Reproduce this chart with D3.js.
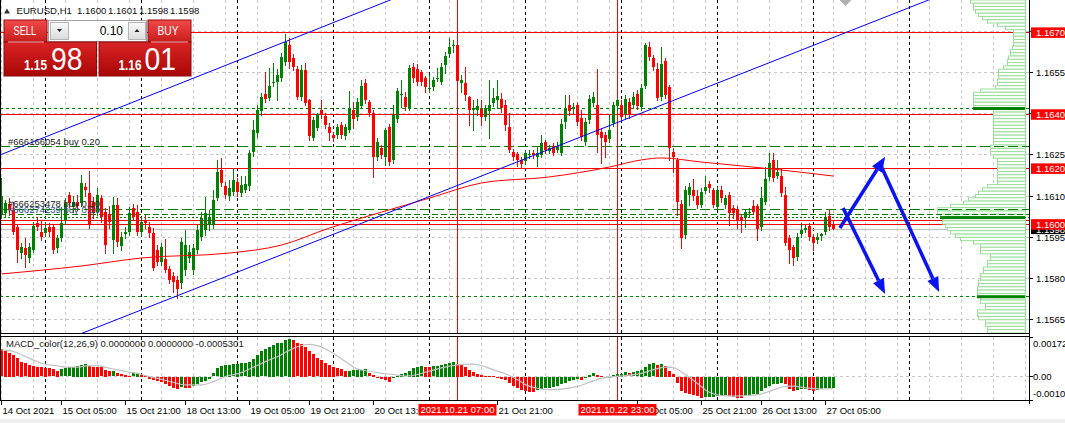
<!DOCTYPE html>
<html><head><meta charset="utf-8">
<script src="https://cdn.jsdelivr.net/npm/d3@7"></script>
<style>
html,body{margin:0;padding:0;background:#fff;overflow:hidden}
svg{display:block}
text{font-family:"Liberation Sans",Arial,sans-serif}
</style></head><body>
<svg id="c" width="1065" height="423"></svg>
<script>
// ---------------- DATA ----------------
const opens=[1.16035,1.16039,1.16071,1.16050,1.15988,1.15893,1.15911,1.15875,1.15904,1.16002,1.15970,1.15966,1.15988,1.15988,1.15911,1.15948,1.16013,1.16104,1.16061,1.16079,1.16075,1.16133,1.16112,1.16079,1.16042,1.16093,1.16042,1.16035,1.15940,1.16068,1.15919,1.15962,1.15970,1.16057,1.16042,1.15970,1.16013,1.15988,1.15966,1.15904,1.15861,1.15871,1.15835,1.15810,1.15795,1.15784,1.15831,1.15875,1.15831,1.15904,1.15951,1.15977,1.15995,1.15995,1.16093,1.16195,1.16137,1.16101,1.16115,1.16152,1.16112,1.16122,1.16137,1.16261,1.16330,1.16410,1.16472,1.16457,1.16512,1.16516,1.16530,1.16588,1.16650,1.16603,1.16563,1.16461,1.16559,1.16450,1.16312,1.16348,1.16414,1.16392,1.16352,1.16323,1.16323,1.16359,1.16319,1.16341,1.16414,1.16388,1.16428,1.16512,1.16443,1.16403,1.16243,1.16275,1.16243,1.16352,1.16232,1.16381,1.16468,1.16461,1.16421,1.16570,1.16563,1.16552,1.16530,1.16490,1.16497,1.16526,1.16516,1.16577,1.16617,1.16647,1.16650,1.16512,1.16512,1.16461,1.16414,1.16414,1.16417,1.16388,1.16410,1.16439,1.16450,1.16454,1.16432,1.16352,1.16261,1.16253,1.16232,1.16228,1.16250,1.16257,1.16243,1.16250,1.16297,1.16264,1.16283,1.16268,1.16257,1.16370,1.16432,1.16417,1.16432,1.16384,1.16297,1.16377,1.16439,1.16432,1.16334,1.16323,1.16308,1.16366,1.16428,1.16432,1.16399,1.16443,1.16432,1.16472,1.16425,1.16501,1.16643,1.16603,1.16563,1.16461,1.16592,1.16497,1.16261,1.16232,1.16071,1.15959,1.16104,1.16122,1.16101,1.16068,1.16119,1.16144,1.16122,1.16061,1.16122,1.16068,1.16104,1.16057,1.16053,1.16024,1.16020,1.16039,1.16064,1.16064,1.15988,1.16079,1.16170,1.16232,1.16173,1.16173,1.16104,1.15948,1.15915,1.15879,1.15962,1.15977,1.15991,1.15951,1.15940,1.15955,1.15970,1.16028,1.16000];
const highs=[1.16166,1.16086,1.16093,1.16079,1.15995,1.15929,1.15948,1.15929,1.16006,1.16024,1.16013,1.16006,1.16002,1.15999,1.15959,1.16061,1.16093,1.16115,1.16101,1.16104,1.16177,1.16148,1.16192,1.16097,1.16130,1.16104,1.16057,1.16064,1.16097,1.16093,1.15970,1.15988,1.16061,1.16071,1.16068,1.16020,1.16031,1.16006,1.15984,1.15922,1.15929,1.15944,1.15846,1.15824,1.15810,1.15948,1.15977,1.15922,1.15926,1.15995,1.16042,1.16097,1.16050,1.16122,1.16232,1.16239,1.16152,1.16159,1.16202,1.16166,1.16173,1.16173,1.16268,1.16377,1.16432,1.16476,1.16552,1.16566,1.16585,1.16563,1.16621,1.16690,1.16676,1.16617,1.16574,1.16577,1.16585,1.16454,1.16388,1.16403,1.16450,1.16403,1.16366,1.16334,1.16363,1.16370,1.16363,1.16483,1.16443,1.16457,1.16523,1.16526,1.16450,1.16414,1.16312,1.16286,1.16348,1.16363,1.16432,1.16494,1.16523,1.16479,1.16577,1.16585,1.16581,1.16559,1.16537,1.16541,1.16534,1.16566,1.16585,1.16625,1.16676,1.16668,1.16661,1.16541,1.16570,1.16465,1.16450,1.16454,1.16450,1.16432,1.16523,1.16494,1.16523,1.16476,1.16450,1.16403,1.16272,1.16261,1.16243,1.16268,1.16268,1.16268,1.16279,1.16323,1.16304,1.16286,1.16293,1.16297,1.16381,1.16468,1.16468,1.16439,1.16443,1.16414,1.16384,1.16468,1.16479,1.16563,1.16348,1.16334,1.16395,1.16443,1.16457,1.16450,1.16468,1.16457,1.16479,1.16486,1.16508,1.16658,1.16661,1.16614,1.16585,1.16643,1.16603,1.16505,1.16275,1.16239,1.16086,1.16137,1.16148,1.16162,1.16122,1.16130,1.16173,1.16155,1.16130,1.16133,1.16137,1.16104,1.16115,1.16068,1.16064,1.16035,1.16050,1.16057,1.16086,1.16071,1.16133,1.16206,1.16257,1.16257,1.16232,1.16202,1.16133,1.15959,1.15922,1.15966,1.16002,1.15995,1.16002,1.15962,1.15966,1.15966,1.16042,1.16053,1.16010];
const lows=[1.16020,1.16028,1.16031,1.15962,1.15861,1.15875,1.15843,1.15861,1.15897,1.15977,1.15940,1.15955,1.15955,1.15893,1.15897,1.15937,1.15999,1.16061,1.16042,1.16050,1.16064,1.16101,1.15984,1.16020,1.16031,1.16006,1.15893,1.15984,1.15893,1.15919,1.15904,1.15948,1.15959,1.16013,1.15959,1.15955,1.15984,1.15951,1.15831,1.15850,1.15850,1.15824,1.15784,1.15751,1.15729,1.15766,1.15813,1.15861,1.15817,1.15893,1.15940,1.15959,1.15977,1.15984,1.16086,1.16137,1.16093,1.16086,1.16104,1.16101,1.16101,1.16115,1.16122,1.16246,1.16315,1.16395,1.16443,1.16450,1.16501,1.16450,1.16519,1.16577,1.16566,1.16559,1.16454,1.16450,1.16432,1.16304,1.16304,1.16341,1.16384,1.16348,1.16304,1.16301,1.16312,1.16312,1.16308,1.16334,1.16348,1.16377,1.16421,1.16439,1.16392,1.16170,1.16232,1.16239,1.16213,1.16213,1.16221,1.16370,1.16425,1.16414,1.16414,1.16516,1.16505,1.16505,1.16479,1.16479,1.16486,1.16519,1.16508,1.16548,1.16607,1.16625,1.16508,1.16479,1.16450,1.16359,1.16341,1.16395,1.16359,1.16377,1.16312,1.16428,1.16421,1.16406,1.16341,1.16261,1.16232,1.16210,1.16202,1.16217,1.16239,1.16239,1.16210,1.16243,1.16257,1.16257,1.16250,1.16261,1.16250,1.16348,1.16395,1.16403,1.16359,1.16304,1.16286,1.16366,1.16428,1.16261,1.16221,1.16243,1.16297,1.16355,1.16414,1.16377,1.16384,1.16384,1.16421,1.16417,1.16414,1.16494,1.16596,1.16559,1.16450,1.16450,1.16457,1.16232,1.16188,1.16031,1.15911,1.15948,1.16068,1.16086,1.16057,1.16061,1.16112,1.16115,1.16061,1.16053,1.16079,1.16057,1.15995,1.16020,1.15984,1.15970,1.15988,1.16028,1.16035,1.15940,1.15977,1.16071,1.16159,1.16155,1.16166,1.16101,1.15922,1.15857,1.15850,1.15868,1.15951,1.15970,1.15940,1.15904,1.15929,1.15940,1.15962,1.15977,1.15980];
const closes=[1.16101,1.16075,1.16050,1.15970,1.15904,1.15915,1.15886,1.15915,1.15991,1.15988,1.15951,1.15984,1.15970,1.15904,1.15948,1.16002,1.16075,1.16075,1.16079,1.16064,1.16148,1.16122,1.15995,1.16039,1.16104,1.16024,1.15922,1.16006,1.16068,1.15933,1.15951,1.15970,1.16039,1.16024,1.15970,1.16006,1.16002,1.15966,1.15839,1.15861,1.15915,1.15831,1.15795,1.15788,1.15762,1.15933,1.15922,1.15897,1.15911,1.15977,1.16020,1.16039,1.16024,1.16086,1.16188,1.16148,1.16104,1.16130,1.16159,1.16115,1.16141,1.16144,1.16257,1.16341,1.16414,1.16461,1.16454,1.16501,1.16516,1.16541,1.16607,1.16661,1.16588,1.16570,1.16461,1.16559,1.16439,1.16319,1.16377,1.16399,1.16395,1.16359,1.16330,1.16312,1.16352,1.16323,1.16352,1.16421,1.16381,1.16443,1.16501,1.16450,1.16403,1.16243,1.16297,1.16250,1.16341,1.16224,1.16395,1.16483,1.16472,1.16425,1.16566,1.16530,1.16516,1.16516,1.16497,1.16494,1.16523,1.16530,1.16570,1.16610,1.16643,1.16650,1.16519,1.16523,1.16468,1.16414,1.16421,1.16428,1.16388,1.16421,1.16432,1.16457,1.16465,1.16421,1.16359,1.16268,1.16243,1.16232,1.16217,1.16257,1.16253,1.16250,1.16257,1.16293,1.16268,1.16275,1.16257,1.16283,1.16363,1.16421,1.16410,1.16425,1.16370,1.16315,1.16370,1.16454,1.16461,1.16323,1.16312,1.16297,1.16341,1.16432,1.16450,1.16388,1.16454,1.16395,1.16461,1.16428,1.16494,1.16650,1.16607,1.16570,1.16457,1.16581,1.16468,1.16275,1.16243,1.16079,1.15948,1.16122,1.16133,1.16101,1.16068,1.16115,1.16133,1.16130,1.16068,1.16122,1.16093,1.16093,1.16039,1.16039,1.16013,1.16010,1.16042,1.16042,1.16042,1.15980,1.16093,1.16162,1.16221,1.16166,1.16188,1.16112,1.15929,1.15904,1.15875,1.15951,1.15977,1.15984,1.15951,1.15929,1.15951,1.15962,1.16024,1.15988,1.15980];

// MACD histogram (main line) per bar, and its signal line read at sample bars
const macdHist=[0.00119,0.00113,0.00104,0.00094,0.00080,0.00065,0.00058,0.00051,0.00046,0.00043,0.00041,0.00039,0.00036,0.00032,0.00026,0.00032,0.00036,0.00041,0.00043,0.00046,0.00051,0.00055,0.00046,0.00043,0.00042,0.00041,0.00029,0.00022,0.00023,0.00014,0.00010,0.00007,0.00003,0.00014,0.00017,0.00007,0.00003,-0.00007,-0.00014,-0.00017,-0.00022,-0.00029,-0.00041,-0.00046,-0.00051,-0.00045,-0.00048,-0.00049,-0.00038,-0.00029,-0.00022,-0.00017,-0.00007,0.00014,0.00036,0.00046,0.00051,0.00052,0.00054,0.00055,0.00057,0.00058,0.00065,0.00075,0.00094,0.00109,0.00119,0.00130,0.00138,0.00145,0.00148,0.00157,0.00164,0.00159,0.00145,0.00142,0.00130,0.00109,0.00099,0.00080,0.00072,0.00061,0.00051,0.00043,0.00036,0.00032,0.00025,0.00026,0.00028,0.00029,0.00030,0.00031,0.00014,0.00007,-0.00004,-0.00010,-0.00012,-0.00020,-0.00006,0.00004,0.00012,0.00014,0.00026,0.00038,0.00043,0.00045,0.00043,0.00042,0.00045,0.00048,0.00052,0.00055,0.00059,0.00065,0.00055,0.00051,0.00041,0.00029,0.00019,0.00012,0.00007,0.00004,0.00003,0.00001,-0.00001,-0.00007,-0.00014,-0.00025,-0.00039,-0.00049,-0.00058,-0.00061,-0.00064,-0.00065,-0.00058,-0.00054,-0.00049,-0.00048,-0.00043,-0.00039,-0.00032,-0.00025,-0.00017,-0.00014,-0.00010,-0.00012,-0.00006,0.00007,0.00014,0.00007,0.00004,-0.00006,-0.00003,0.00007,0.00010,0.00012,0.00019,0.00014,0.00019,0.00022,0.00029,0.00041,0.00055,0.00057,0.00051,0.00055,0.00048,0.00026,0.00012,-0.00025,-0.00061,-0.00068,-0.00072,-0.00078,-0.00083,-0.00091,-0.00088,-0.00087,-0.00086,-0.00083,-0.00081,-0.00080,-0.00083,-0.00087,-0.00090,-0.00093,-0.00084,-0.00078,-0.00075,-0.00072,-0.00061,-0.00049,-0.00039,-0.00032,-0.00029,-0.00025,-0.00032,-0.00054,-0.00061,-0.00055,-0.00054,-0.00052,-0.00058,-0.00061,-0.00055,-0.00051,-0.00049,-0.00048,-0.00046];
const signalBars=[0,3,6,10,14,16,19,21,24,27,31,35,36,40,43,46,50,53,56,60,63,66,70,72,75,77,80,83,86,89,92,95,98,101,104,106,110,114,117,120,123,126,129,131,134,137,140,144,147,150,153,156,160,163,166,168,170,172,174,176,177,180,183,186,190,193,196,198,201,205,208];
const signalVals=[0.00116,0.00109,0.00087,0.00058,0.00046,0.00041,0.00041,0.00046,0.00046,0.00036,0.00022,0.00010,0.00004,-0.00012,-0.00026,-0.00036,-0.00036,-0.00022,0.00000,0.00017,0.00041,0.00065,0.00095,0.00115,0.00135,0.00140,0.00128,0.00100,0.00065,0.00032,0.00023,0.00014,0.00009,0.00002,0.00009,0.00019,0.00038,0.00051,0.00054,0.00048,0.00029,0.00012,-0.00014,-0.00035,-0.00051,-0.00058,-0.00055,-0.00043,-0.00025,-0.00007,0.00000,0.00004,0.00014,0.00030,0.00041,0.00039,0.00020,-0.00004,-0.00030,-0.00058,-0.00068,-0.00083,-0.00085,-0.00083,-0.00075,-0.00058,-0.00043,-0.00042,-0.00049,-0.00054,-0.00053];

// Moving average (red) read at sample bars
const maBars=[0,20,35,57,70,82,95,107,120,137,152,160,165,175,185,195,208];
const maVals=[1.15817,1.15846,1.15875,1.15893,1.15922,1.15984,1.16042,1.16093,1.16148,1.16170,1.16206,1.16232,1.16239,1.16224,1.16210,1.16195,1.16173];

// Time axis
const timeLabels=["14 Oct 2021","15 Oct 05:00","15 Oct 21:00","18 Oct 13:00","19 Oct 05:00","19 Oct 21:00","20 Oct 13:00","21 Oct 21:00","25 Oct 05:00","25 Oct 21:00","26 Oct 13:00","27 Oct 05:00"];
const timeLabelBars=[0,15,31,46,62,77,93,124,159,175,190,206];
const separatorBars=[11,35,59,83,107,131,155,179,203,227];
const vlineBars=[114,154];
const vlineLabels=["2021.10.21 07:00","2021.10.22 23:00"];

// Price axis
const priceTicks=[1.1565,1.1580,1.1595,1.1610,1.1625,1.1640,1.1655,1.1670];
const redLevels=[1.16696,1.16398,1.16201,1.16013,1.15998];
const redLabelLevels=[1.16696,1.16398,1.16201,1.15998];
const bidPrice=1.15980;
const orderPrices=[1.16280,1.16053,1.16032];
const orderLabels=["#666166054 buy 0.20","#666253478 buy 0.20","#666274239 buy 0.20"];
const profileLevels=[1.16419,1.16022,1.15734];
const macdTicks=[0.00172,0,-0.00102];

// Trend lines (bar, price)
const upperChannelBars=[0,96], upperChannelPrices=[1.16252,1.16807];
const lowerChannelBars=[21,229], lowerChannelPrices=[1.15606,1.16798];
const arrowBars=[[209.6,220.9],[219.9,234.4],[210.4,220.9]];
const arrowPrices=[[1.15984,1.16243],[1.16210,1.15751],[1.16057,1.15744]];

// Volume profile (top price, bucket size, volumes from top)
const profileTop=1.16814, profileStep=0.00012;
const profileVols=[55,52,52,50,47,43,38,28,20,12,12,12,12,12,13,15,15,17,18,18,22,27,27,27,28,28,30,45,52,52,52,52,52,32,32,32,32,32,32,32,32,32,32,32,35,35,35,32,28,28,28,28,28,28,28,28,38,43,47,50,57,62,75,88,88,85,83,83,80,78,75,70,65,52,45,45,45,35,35,38,38,42,42,45,45,47,47,48,48,48,45,45,40,40,48,48,47,40,40,38,38];

// Trade panel
const sellPrice="1.1598", buyPrice="1.1601", lotSize="0.10";
const symbolName="EURUSD,H1";
const macdTitle="MACD_color(12,26,9) 0.0000000 0.0000000 -0.0005301";

// ---------------- DRAW ----------------
const W=1065,H=423, AX=1029, MAIN_B=333, MACD_T=337, MACD_B=400;
const GREEN="#008000", RED="#ff0000", GRID="#c8c8c8", BLUE="#0000ff";
const svg=d3.select("#c");
const defs=svg.append("defs");
defs.append("clipPath").attr("id","cpMain").append("rect").attr("x",0).attr("y",0).attr("width",AX).attr("height",MAIN_B);
defs.append("clipPath").attr("id","cpMacd").append("rect").attr("x",0).attr("y",MACD_T).attr("width",AX).attr("height",MACD_B-MACD_T);

const x=d3.scaleLinear().domain([0,256.625]).range([1.5,1028]);
const y=d3.scaleLinear().domain([1.1565,1.1655]).range([319.8,72.5]);
const ym=d3.scaleLinear().domain([-0.00102,0.00172]).range([MACD_B,MACD_T]);
const cy=v=>Math.floor(y(v))+0.5;

svg.append("rect").attr("width",W).attr("height",H).attr("fill","#fff");
svg.append("rect").attr("x",0).attr("y",419).attr("width",W).attr("height",4).attr("fill","#f0f0f0");

const gM=svg.append("g").attr("clip-path","url(#cpMain)");
const gD=svg.append("g").attr("clip-path","url(#cpMacd)");
const gridBars=d3.range(0,257,8);

// grids
const gMg=gM.append("g").attr("shape-rendering","crispEdges");
gMg.selectAll(null).data(priceTicks).join("line").attr("x1",0).attr("x2",AX).attr("y1",d=>cy(d)).attr("y2",d=>cy(d)).attr("stroke",GRID).attr("stroke-dasharray","3,3");
gMg.selectAll(null).data(gridBars).join("line").attr("x1",d=>x(d)).attr("x2",d=>x(d)).attr("y1",0).attr("y2",MAIN_B).attr("stroke",GRID).attr("stroke-dasharray","3,3");
const gDg=gD.append("g").attr("shape-rendering","crispEdges");
gDg.append("line").attr("x1",0).attr("x2",AX).attr("y1",Math.floor(ym(0))+0.5).attr("y2",Math.floor(ym(0))+0.5).attr("stroke",GRID).attr("stroke-dasharray","3,3");
gDg.selectAll(null).data(gridBars).join("line").attr("x1",d=>x(d)).attr("x2",d=>x(d)).attr("y1",MACD_T).attr("y2",MACD_B).attr("stroke",GRID).attr("stroke-dasharray","3,3");

// period separators
[gMg,gDg].forEach((g,k)=>{
  g.selectAll(null).data(separatorBars).join("line").attr("x1",d=>x(d)).attr("x2",d=>x(d))
   .attr("y1",k?MACD_T:0).attr("y2",k?MACD_B:MAIN_B).attr("stroke","#000").attr("stroke-dasharray","3,3");
});

// red horizontal levels
gMg.selectAll(null).data(redLevels).join("line").attr("x1",0).attr("x2",AX).attr("y1",d=>cy(d)).attr("y2",d=>cy(d)).attr("stroke",RED);
// bid line
gMg.append("line").attr("x1",0).attr("x2",AX).attr("y1",cy(bidPrice)).attr("y2",cy(bidPrice)).attr("stroke","#c0c0c0");

// volume profile
const xv=d3.scaleLinear().domain([0,100]).range([1025,925]);
const rowTop=k=>y(profileTop-k*profileStep);
gM.append("g").selectAll(null).data(profileVols).join("rect")
  .attr("x",d=>Math.round(xv(d))+0.5).attr("width",d=>1025-Math.round(xv(d)))
  .attr("y",(d,k)=>rowTop(k)).attr("height",(d,k)=>rowTop(k+1)-rowTop(k))
  .attr("fill","#fff").attr("stroke","#9ade9a").attr("stroke-width",1);
profileLevels.forEach(p=>{
  const k=Math.floor((profileTop-p)/profileStep);
  gM.append("rect").attr("x",xv(profileVols[k])).attr("width",1025-xv(profileVols[k])).attr("y",y(p)-1.5).attr("height",3).attr("fill",GREEN);
});

// green dashed lines
const gGl=gM.append("g").attr("shape-rendering","crispEdges");
gGl.selectAll(null).data(profileLevels).join("line").attr("x1",0).attr("x2",AX).attr("y1",d=>cy(d)).attr("y2",d=>cy(d))
  .attr("stroke",GREEN).attr("stroke-dasharray",(d,k)=>k===1?"2,2":"3,3");
gGl.selectAll(null).data(orderPrices).join("line").attr("x1",0).attr("x2",AX).attr("y1",d=>cy(d)).attr("y2",d=>cy(d))
  .attr("stroke",GREEN).attr("stroke-dasharray",(d,k)=>k===2?"6,3":"10,4");

// vertical red lines
[0,1].forEach(k=>{
  const g=k?gD:gM;
  g.selectAll(null).data(vlineBars).join("line").attr("x1",d=>x(d)).attr("x2",d=>x(d))
   .attr("y1",k?MACD_T:0).attr("y2",k?MACD_B:MAIN_B).attr("stroke",RED).attr("shape-rendering","crispEdges");
});

// candles
const bars=d3.range(opens.length);
const gC=gM.append("g").attr("shape-rendering","crispEdges");
gC.selectAll(null).data(bars).join("rect")
  .attr("x",i=>x(i)-0.5).attr("width",1)
  .attr("y",i=>Math.round(y(highs[i]))).attr("height",i=>Math.max(1,Math.round(y(lows[i]))-Math.round(y(highs[i]))+1))
  .attr("fill",i=>closes[i]>=opens[i]?GREEN:RED);
gC.selectAll(null).data(bars).join("rect")
  .attr("x",i=>x(i)-1.5).attr("width",3)
  .attr("y",i=>Math.round(Math.min(y(opens[i]),y(closes[i]))))
  .attr("height",i=>Math.max(1,Math.round(Math.abs(y(opens[i])-y(closes[i])))))
  .attr("fill",i=>closes[i]>=opens[i]?GREEN:RED);

// moving average
gM.append("path").datum(maBars.map((b,k)=>[b,maVals[k]]))
  .attr("d",d3.line().x(d=>x(d[0])).y(d=>y(d[1])).curve(d3.curveMonotoneX))
  .attr("fill","none").attr("stroke",RED).attr("stroke-width",1);

// channel lines (extended)
function extLine(bs,ps){
  const s=(ps[1]-ps[0])/(bs[1]-bs[0]);
  const b0=-10,b1=270;
  return [[b0,ps[0]+s*(b0-bs[0])],[b1,ps[0]+s*(b1-bs[0])]];
}
[[upperChannelBars,upperChannelPrices],[lowerChannelBars,lowerChannelPrices]].forEach(([bs,ps])=>{
  gM.append("path").datum(extLine(bs,ps)).attr("d",d3.line().x(d=>x(d[0])).y(d=>y(d[1])))
    .attr("stroke",BLUE).attr("stroke-width",1).attr("fill","none");
});

// arrows
arrowBars.forEach((bs,k)=>{
  const x0=x(bs[0]),y0=y(arrowPrices[k][0]),x1=x(bs[1]),y1=y(arrowPrices[k][1]);
  const a=Math.atan2(y1-y0,x1-x0), L=15, Wd=6;
  const bx=x1-L*Math.cos(a), by=y1-L*Math.sin(a);
  gM.append("line").attr("x1",x0).attr("y1",y0).attr("x2",bx).attr("y2",by).attr("stroke","#0a14f0").attr("stroke-width",3.5);
  gM.append("path").attr("d",`M${x1},${y1}L${bx+Wd*Math.sin(a)},${by-Wd*Math.cos(a)}L${bx-Wd*Math.sin(a)},${by+Wd*Math.cos(a)}Z`).attr("fill","#0a14f0");
});

// chart shift marker
gM.append("path").attr("d",`M${x(211)-6},0L${x(211)+6},0L${x(211)},6Z`).attr("fill","#b0b0b0");

// order labels
gM.selectAll(null).data(orderPrices).join("text").attr("x",8).attr("y",d=>y(d)-2).attr("font-size",9.5)
  .attr("fill",(d,k)=>k===2?"#2a4a8a":"#222").text((d,k)=>orderLabels[k]);

// MACD histogram
const gH=gD.append("g").attr("shape-rendering","crispEdges");
gH.selectAll(null).data(bars).join("rect")
  .attr("x",i=>x(i)-1.5).attr("width",3)
  .attr("y",i=>Math.round(Math.min(ym(0),ym(macdHist[i]))))
  .attr("height",i=>Math.max(1,Math.round(Math.abs(ym(macdHist[i])-ym(0)))))
  .attr("fill",i=>(i>0&&macdHist[i]>macdHist[i-1])?GREEN:RED);
gD.append("path").datum(signalBars.map((b,k)=>[b,signalVals[k]]))
  .attr("d",d3.line().x(d=>x(d[0])).y(d=>ym(d[1])).curve(d3.curveMonotoneX))
  .attr("fill","none").attr("stroke","#c0c0c0").attr("stroke-width",1.2);
svg.append("text").attr("x",6).attr("y",347).attr("font-size",9.5).attr("fill","#222").text(macdTitle);

// frames
const gF=svg.append("g").attr("shape-rendering","crispEdges").attr("stroke","#000");
gF.append("line").attr("x1",0.5).attr("x2",0.5).attr("y1",0).attr("y2",MACD_B);
gF.append("line").attr("x1",AX+0.5).attr("x2",AX+0.5).attr("y1",0).attr("y2",MACD_B+4);
gF.append("line").attr("x1",0).attr("x2",AX).attr("y1",MAIN_B+0.5).attr("y2",MAIN_B+0.5);
gF.append("line").attr("x1",0).attr("x2",AX).attr("y1",MACD_T-0.5).attr("y2",MACD_T-0.5);
gF.append("line").attr("x1",0).attr("x2",AX).attr("y1",MACD_B+0.5).attr("y2",MACD_B+0.5);

// price axis
const gA=svg.append("g");
gA.selectAll(null).data(priceTicks).join("line").attr("x1",AX).attr("x2",AX+4).attr("y1",d=>cy(d)).attr("y2",d=>cy(d)).attr("stroke","#000").attr("shape-rendering","crispEdges");
gA.selectAll(null).data(priceTicks).join("text").attr("x",1036).attr("y",d=>y(d)+3.5).attr("font-size",9.5).attr("fill","#000").text(d=>d.toFixed(4));
// bid label (black)
gA.append("rect").attr("x",1031).attr("y",y(bidPrice)-5).attr("width",34).attr("height",10).attr("fill","#000");
gA.append("text").attr("x",1036).attr("y",y(bidPrice)+3.5).attr("font-size",9.5).attr("fill","#fff").text(bidPrice.toFixed(4));
gA.selectAll(null).data(redLabelLevels).join("rect").attr("x",1031).attr("y",d=>y(d)-5).attr("width",34).attr("height",10.5).attr("fill",RED);
gA.selectAll(null).data(redLabelLevels).join("text").attr("x",1036).attr("y",d=>y(d)+3.7).attr("font-size",9.5).attr("fill","#fff").text(d=>d.toFixed(4));
// MACD axis
gA.selectAll(null).data(macdTicks).join("line").attr("x1",AX).attr("x2",AX+4).attr("y1",d=>Math.floor(ym(d))+0.5).attr("y2",d=>Math.floor(ym(d))+0.5).attr("stroke","#000").attr("shape-rendering","crispEdges");
gA.selectAll(null).data(macdTicks).join("text").attr("x",1033).attr("font-size",9.5).attr("fill","#000")
  .attr("y",(d,k)=>k===0?ym(d)+9.5:k===1?ym(d)+3.5:ym(d)-3)
  .text(d=>d===0?"0.00":d.toFixed(5));

// time axis
const gT=svg.append("g");
gT.selectAll(null).data(timeLabelBars).join("line").attr("x1",d=>x(d)).attr("x2",d=>x(d)).attr("y1",MACD_B).attr("y2",MACD_B+5).attr("stroke","#000").attr("shape-rendering","crispEdges");
gT.selectAll(null).data(timeLabelBars).join("text").attr("x",d=>x(d)+1).attr("y",413.5).attr("font-size",9.5).attr("fill","#000").text((d,k)=>timeLabels[k]);
vlineBars.forEach((b,k)=>{
  gT.append("rect").attr("x",x(b)-39).attr("y",404).attr("width",78).attr("height",11.5).attr("fill",RED);
  gT.append("text").attr("x",x(b)).attr("y",413.3).attr("text-anchor","middle").attr("font-size",9.5).attr("fill","#fff").text(vlineLabels[k]);
});

// header
svg.append("path").attr("d","M4,13.5L10,13.5L7,8.5Z").attr("fill","#333");
const hdr=svg.append("text").attr("y",14).attr("font-size",9.6).attr("fill","#111");
hdr.append("tspan").attr("x",16.5).text(symbolName);
const last=opens.length-1;
[opens[last],highs[last],lows[last],closes[last]].forEach((v,k)=>hdr.append("tspan").attr("x",77+k*31).text(v.toFixed(4)));

// trade panel
function grad(id,c0,c1){const g=defs.append("linearGradient").attr("id",id).attr("x1",0).attr("y1",0).attr("x2",0).attr("y2",1);
  g.append("stop").attr("offset","0%").attr("stop-color",c0);g.append("stop").attr("offset","100%").attr("stop-color",c1);}
grad("gBtn","#f04a4a","#c81c1c");
grad("gPx","#d92424","#a80606");
grad("gGr","#fafafa","#dcdcdc");
const tp=svg.append("g");
tp.append("rect").attr("x",4).attr("y",20).attr("width",43).attr("height",22).attr("fill","url(#gBtn)").attr("stroke","#9a0d0d");
tp.append("rect").attr("x",148).attr("y",20).attr("width",43).attr("height",22).attr("fill","url(#gBtn)").attr("stroke","#9a0d0d");
tp.append("rect").attr("x",48.5).attr("y",20.5).attr("width",98).attr("height",21).attr("fill","#fff").attr("stroke","#a0a0a0");
tp.append("rect").attr("x",50.5).attr("y",22.5).attr("width",18).attr("height",17).attr("fill","url(#gGr)").attr("stroke","#b4b4b4");
tp.append("rect").attr("x",128.5).attr("y",22.5).attr("width",17).attr("height",17).attr("fill","url(#gGr)").attr("stroke","#b4b4b4");
tp.append("path").attr("d","M57,29L62,29L59.5,32Z").attr("fill","#222");
tp.append("path").attr("d","M134.5,32L139.5,32L137,29Z").attr("fill","#222");
tp.append("text").attr("x",123).attr("y",34.5).attr("text-anchor","end").attr("font-size",12).attr("fill","#000").text(lotSize);
tp.append("text").attr("x",13.5).attr("y",34.5).attr("font-size",12).attr("fill","#fff").attr("textLength",22.5).attr("lengthAdjust","spacingAndGlyphs").text("SELL");
tp.append("text").attr("x",157.5).attr("y",34.5).attr("font-size",12).attr("fill","#fff").attr("textLength",21).attr("lengthAdjust","spacingAndGlyphs").text("BUY");
tp.append("rect").attr("x",4).attr("y",42).attr("width",92.5).attr("height",34).attr("fill","url(#gPx)").attr("stroke","#8a0a0a");
tp.append("rect").attr("x",99).attr("y",42).attr("width",92).attr("height",34).attr("fill","url(#gPx)").attr("stroke","#8a0a0a");
tp.append("line").attr("x1",8).attr("x2",44).attr("y1",42).attr("y2",42).attr("stroke","#ffb0b0");
tp.append("line").attr("x1",151).attr("x2",188).attr("y1",42).attr("y2",42).attr("stroke","#ffb0b0");
[[sellPrice,24,51],[buyPrice,118.5,144.5]].forEach(([p,xs,xb])=>{
  tp.append("text").attr("x",xs).attr("y",70).attr("font-size",14.5).attr("font-weight","bold").attr("fill","#fff")
    .attr("textLength",23).attr("lengthAdjust","spacingAndGlyphs").text(p.slice(0,4));
  tp.append("text").attr("x",xb).attr("y",69.5).attr("font-size",31).attr("fill","#fff")
    .attr("textLength",31.5).attr("lengthAdjust","spacingAndGlyphs").text(p.slice(4));
});
</script>
</body></html>
